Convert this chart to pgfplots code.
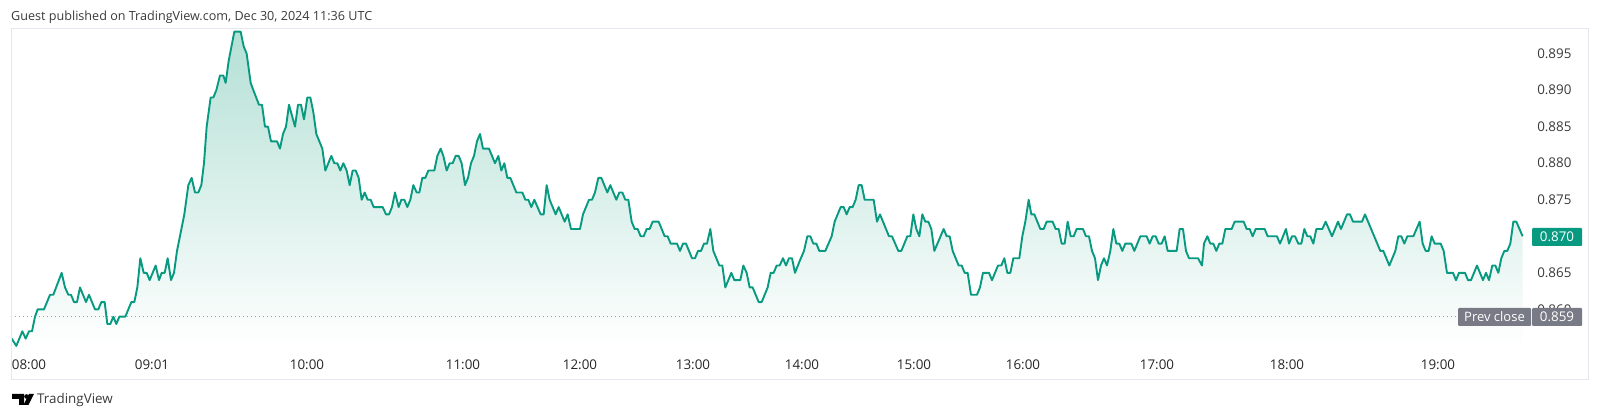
\documentclass[border=0pt]{standalone}
\usepackage{pgfplots}
\usepackage{pgfplotstable}
\usepackage{fontspec}
\setmainfont{Open Sans}
\pgfplotsset{compat=1.18}
\definecolor{tvgreen}{HTML}{089981}
\definecolor{tvfill}{HTML}{B4E0D5}
\definecolor{tvborder}{HTML}{E6E8F0}
\definecolor{tvgrey}{HTML}{787B86}
\definecolor{tvtext}{HTML}{3A3A3A}
\pgfplotstableread{
x y
35 0.8545
35 0.856
49 0.855
67 0.857
77 0.856
87 0.857
96 0.857
105 0.859
113 0.860
132 0.860
150 0.862
160 0.862
185 0.865
195 0.863
205 0.862
213 0.862
222 0.861
231 0.861
240 0.863
258 0.861
267 0.862
285 0.860
295 0.860
304 0.861
314 0.861
322 0.858
331 0.858
340 0.859
349 0.858
358 0.859
376 0.859
394 0.861
403 0.861
412 0.863
421 0.867
431 0.865
440 0.865
449 0.864
467 0.866
477 0.864
485 0.865
494 0.865
503 0.867
513 0.864
522 0.865
531 0.868
553 0.873
565 0.877
575 0.878
585 0.876
595 0.876
604 0.877
612 0.880
620 0.885
632 0.889
640 0.889
649 0.890
660 0.892
670 0.892
677 0.891
686 0.894
703 0.898
722 0.898
731 0.896
740 0.895
752 0.891
760 0.890
777 0.888
786 0.888
795 0.885
804 0.885
813 0.883
831 0.883
840 0.882
849 0.884
858 0.885
867 0.888
885 0.885
894 0.888
903 0.888
912 0.886
922 0.889
931 0.889
940 0.887
949 0.884
967 0.882
976 0.879
994 0.881
1003 0.880
1012 0.880
1021 0.879
1030 0.880
1040 0.879
1049 0.877
1058 0.879
1067 0.879
1076 0.878
1085 0.875
1094 0.876
1103 0.875
1112 0.875
1121 0.874
1148 0.874
1158 0.873
1167 0.873
1176 0.874
1185 0.876
1196 0.874
1204 0.875
1213 0.875
1222 0.874
1231 0.875
1240 0.877
1250 0.876
1258 0.876
1267 0.878
1276 0.878
1285 0.879
1303 0.879
1312 0.881
1322 0.882
1330 0.881
1340 0.879
1349 0.880
1358 0.880
1367 0.881
1376 0.881
1385 0.880
1395 0.877
1404 0.878
1413 0.880
1422 0.881
1431 0.883
1440 0.884
1449 0.882
1467 0.882
1485 0.880
1495 0.881
1504 0.879
1513 0.880
1522 0.878
1531 0.878
1549 0.876
1567 0.876
1576 0.875
1585 0.875
1594 0.874
1603 0.875
1622 0.873
1631 0.873
1640 0.877
1649 0.875
1667 0.873
1676 0.874
1694 0.872
1703 0.873
1713 0.871
1740 0.871
1749 0.873
1767 0.875
1776 0.875
1785 0.876
1795 0.878
1804 0.878
1822 0.876
1831 0.877
1849 0.875
1858 0.876
1867 0.876
1876 0.875
1885 0.875
1895 0.872
1904 0.871
1913 0.871
1922 0.870
1931 0.870
1940 0.871
1949 0.871
1958 0.872
1976 0.872
1994 0.870
2003 0.870
2012 0.869
2031 0.869
2040 0.868
2049 0.869
2058 0.869
2076 0.867
2085 0.867
2094 0.868
2103 0.868
2112 0.869
2121 0.869
2131 0.871
2140 0.868
2158 0.866
2167 0.866
2176 0.863
2194 0.865
2203 0.864
2221 0.864
2230 0.866
2240 0.865
2249 0.863
2258 0.863
2276 0.861
2285 0.861
2303 0.863
2312 0.865
2321 0.865
2330 0.866
2339 0.866
2349 0.867
2358 0.866
2367 0.867
2376 0.867
2385 0.865
2398 0.8665
2412 0.868
2422 0.870
2431 0.870
2440 0.869
2449 0.869
2458 0.868
2476 0.868
2495 0.870
2504 0.872
2522 0.874
2531 0.874
2540 0.873
2549 0.874
2558 0.874
2567 0.875
2576 0.877
2585 0.877
2594 0.875
2621 0.875
2631 0.872
2640 0.873
2667 0.870
2676 0.870
2695 0.868
2704 0.868
2722 0.870
2731 0.870
2740 0.873
2749 0.871
2758 0.870
2767 0.873
2776 0.872
2785 0.872
2794 0.871
2803 0.868
2831 0.871
2840 0.870
2849 0.870
2858 0.868
2876 0.866
2885 0.866
2894 0.865
2903 0.865
2913 0.862
2931 0.862
2940 0.863
2949 0.865
2967 0.865
2976 0.864
2994 0.866
3004 0.866
3013 0.867
3022 0.865
3031 0.865
3040 0.867
3058 0.867
3067 0.870
3076 0.872
3086 0.875
3094 0.873
3103 0.873
3121 0.871
3131 0.871
3140 0.872
3158 0.872
3167 0.871
3176 0.871
3185 0.869
3194 0.869
3203 0.872
3212 0.870
3221 0.870
3230 0.871
3249 0.871
3258 0.870
3267 0.870
3276 0.868
3285 0.867
3294 0.864
3303 0.866
3312 0.867
3321 0.866
3331 0.868
3340 0.871
3349 0.869
3358 0.869
3367 0.868
3376 0.869
3394 0.869
3403 0.868
3421 0.870
3440 0.870
3449 0.869
3458 0.870
3467 0.870
3476 0.869
3485 0.869
3494 0.870
3503 0.868
3530 0.868
3539 0.871
3549 0.871
3558 0.868
3567 0.867
3594 0.867
3600 0.8665
3606 0.866
3612 0.869
3622 0.870
3631 0.869
3640 0.869
3649 0.868
3658 0.869
3667 0.869
3676 0.871
3695 0.871
3704 0.872
3731 0.872
3740 0.871
3749 0.871
3758 0.870
3767 0.871
3794 0.871
3803 0.870
3831 0.870
3840 0.869
3858 0.871
3867 0.869
3876 0.870
3885 0.870
3895 0.869
3904 0.869
3913 0.871
3922 0.870
3931 0.870
3940 0.869
3949 0.871
3967 0.871
3977 0.872
3996 0.870
4014 0.872
4023 0.871
4041 0.873
4050 0.873
4059 0.872
4086 0.872
4095 0.873
4141 0.868
4150 0.868
4168 0.866
4186 0.868
4195 0.870
4204 0.870
4213 0.869
4222 0.870
4240 0.870
4259 0.872
4268 0.869
4277 0.868
4286 0.868
4295 0.870
4304 0.869
4322 0.869
4331 0.868
4341 0.865
4359 0.865
4368 0.864
4377 0.865
4395 0.865
4404 0.864
4413 0.864
4431 0.866
4449 0.864
4458 0.865
4467 0.864
4477 0.866
4486 0.866
4495 0.865
4504 0.867
4513 0.868
4522 0.868
4531 0.869
4540 0.872
4549 0.872
4568 0.870
4568 0.8545
}\pricedata
\begin{document}
\begin{tikzpicture}[x=1pt,y=1pt]
\useasboundingbox (0,0) rectangle (1600,419);
\begin{axis}[
  at={(11pt,69pt)}, anchor=south west,
  scale only axis, width=1519pt, height=321pt,
  xmin=33, xmax=4590, ymin=0.85444, ymax=0.89837,
  clip=true,
  axis line style={draw=none},
  major tick length=0pt,
  xtick={87,456,921,1389,1740,2079,2406,2742,3069,3471,3861,4314},
  xticklabels={08:00,09:01,10:00,11:00,12:00,13:00,14:00,15:00,16:00,17:00,18:00,19:00},
  x tick label style={anchor=center, yshift=-15pt, font=\fontsize{13.4}{15}\selectfont, text=black!85},
  ytick={0.860,0.865,0.870,0.875,0.880,0.885,0.890,0.895},
  yticklabel pos=right,
  y tick label style={anchor=east, xshift=45pt, font=\fontsize{13.4}{15}\selectfont, text=tvtext,
    /pgf/number format/.cd, fixed, fixed zerofill, precision=3, assume math mode=true},
  scaled y ticks=false,
]
\addplot[draw=none, top color=tvfill, bottom color=white] table[x=x,y=y] {\pricedata};
\addplot[line width=0.6pt, tvgrey!70, dash pattern=on 0.8pt off 3.2pt] coordinates {(33,0.859) (4380,0.859)};
\addplot[tvgreen, line width=1.9pt, line join=round, restrict y to domain=0.8548:1] table[x=x,y=y] {\pricedata};
\end{axis}
\draw[tvborder, line width=1pt] (11,39) rectangle (1588,390);
% price labels
\fill[tvgreen, rounded corners=1pt] (1532,173) rectangle (1582,191);
\node[anchor=center, inner sep=0, text=white, font=\fontsize{13.4}{15}\selectfont] at (1557,182) {0.870};
\fill[tvgrey, rounded corners=1pt] (1458,93) rectangle (1531,111);
\node[anchor=center, inner sep=0, text=white, font=\fontsize{13}{15}\selectfont] at (1494.5,102) {Prev close};
\fill[tvgrey, rounded corners=1pt] (1532,93) rectangle (1582,111);
\node[anchor=center, inner sep=0, text=white, font=\fontsize{13.4}{15}\selectfont] at (1557,102) {0.859};
% header and footer
\node[anchor=west, inner sep=0, text=tvtext, font=\fontsize{12.6}{14}\selectfont] at (11,402) {Guest published on TradingView.com, Dec 30, 2024 11:36 UTC};
\node[anchor=west, inner sep=0, text=tvtext, font=\fontsize{13.4}{15}\selectfont] at (37,19) {TradingView};
% logo
\fill[black] (12,25) -- (24,25) -- (24,14) -- (19,14) -- (19,20) -- (12,20) -- cycle;
\fill[black] (26.5,22.5) circle (2.3);
\fill[black] (29,25) -- (34,25) -- (28.5,14) -- (23.5,14) -- cycle;
\end{tikzpicture}
\end{document}
